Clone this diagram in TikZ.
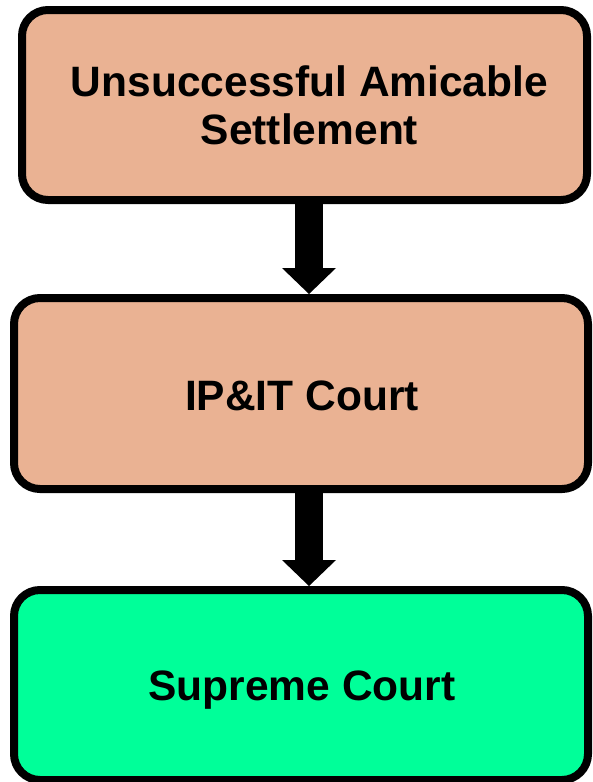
\documentclass[tikz,border=0pt]{standalone}
\usepackage{fontspec}
\setmainfont{Liberation Sans}
\usetikzlibrary{arrows.meta}
\definecolor{peach}{RGB}{234,178,147}
\definecolor{mint}{RGB}{0,255,153}
\newcommand{\shiftedtext}[3]{\raisebox{#2}[\height][\depth]{\hspace*{#1}#3}}
\begin{document}
\begin{tikzpicture}[x=1pt,y=-1pt,
  box/.style={draw=black, line width=8pt, rounded corners=26pt, minimum width=574pt, minimum height=190pt,
    font=\bfseries\fontsize{42.5}{48}\selectfont, align=center, inner sep=0pt},
  flow/.style={line width=28pt, -{Triangle[width=54pt,length=26pt,line width=0pt]}}
]
\useasboundingbox (0,0) rectangle (592,782);
\node[box, fill=peach, minimum width=565pt] (b1) at (304.5,105) {\hspace*{10pt}Unsuccessful Amicable\\\hspace*{10pt}Settlement};
\node[box, fill=peach, minimum height=191pt] (b2) at (301,393.5) {\shiftedtext{2pt}{-2pt}{IP\&IT Court}};
\node[box, fill=mint] (b3) at (301,685) {\shiftedtext{2pt}{-5pt}{Supreme Court}};
\draw[flow] ([xshift=4.5pt]b1.south) -- ([xshift=8pt]b2.north);
\draw[flow] ([xshift=8pt]b2.south) -- ([xshift=8pt]b3.north);
\end{tikzpicture}
\end{document}
